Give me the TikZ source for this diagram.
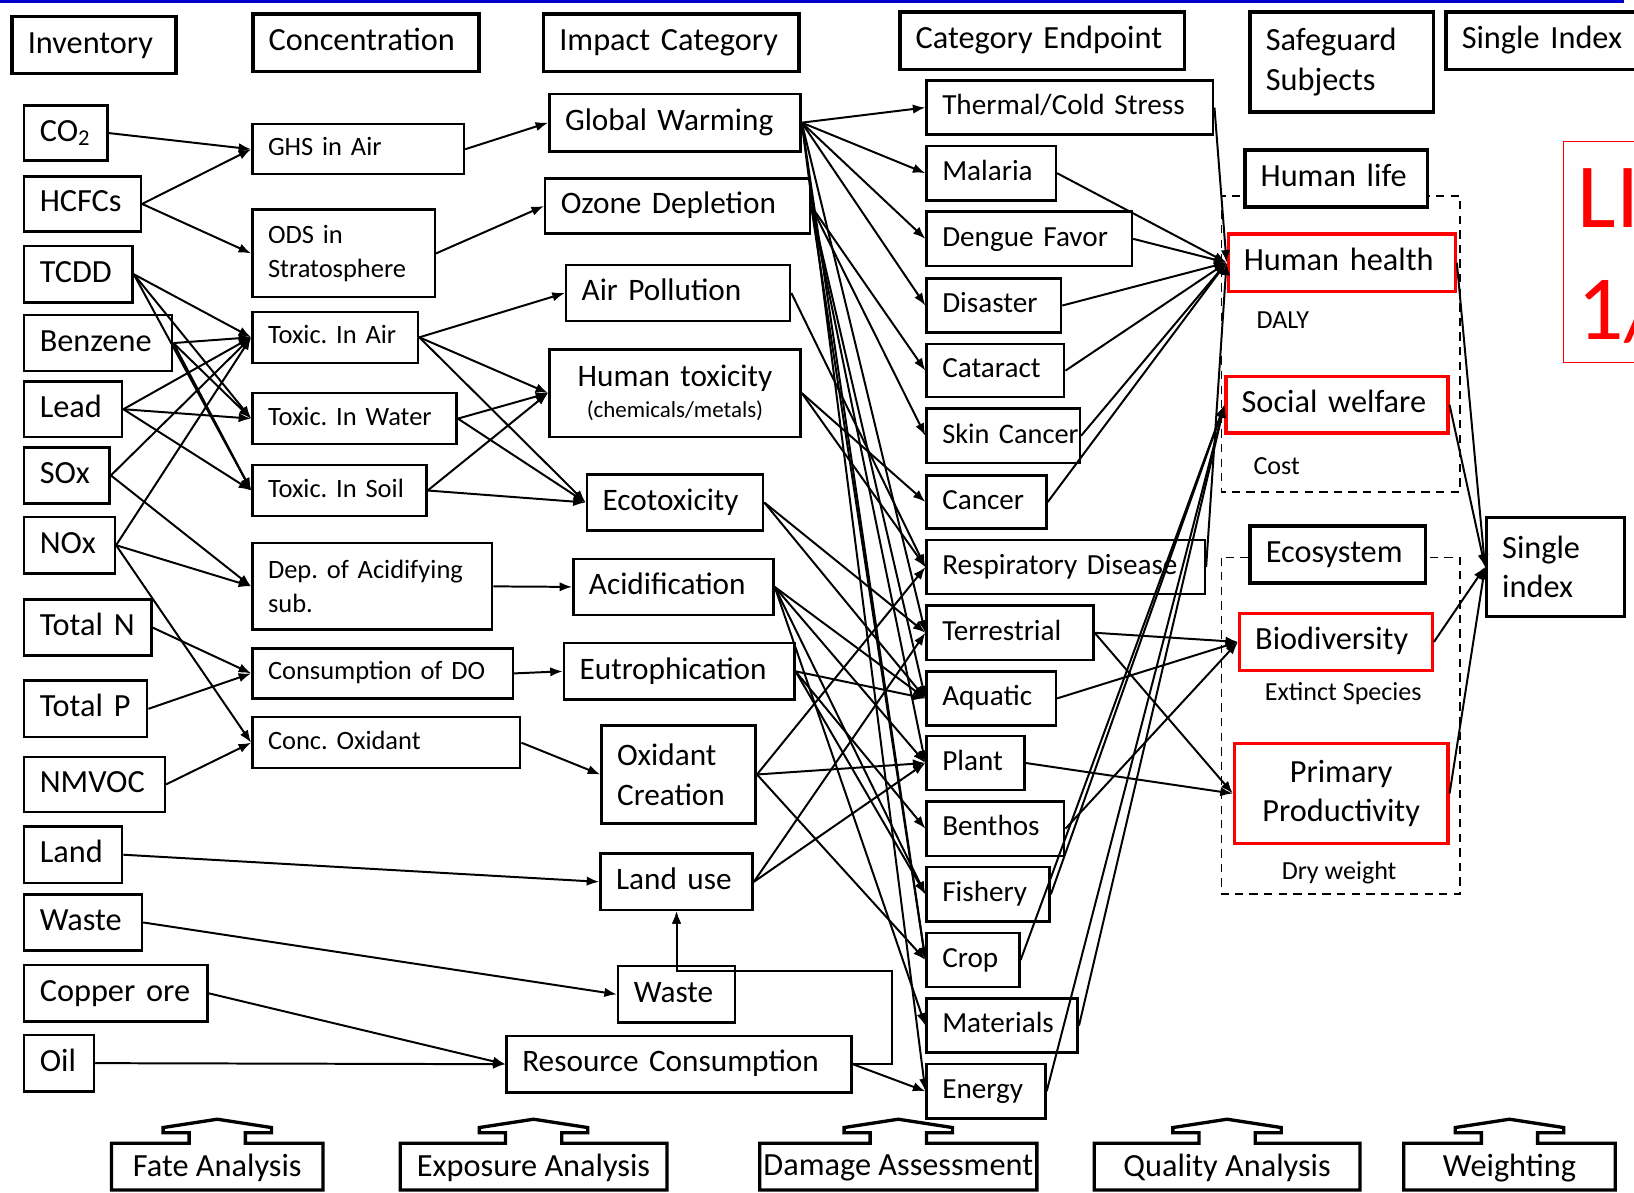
\documentclass[tikz,border=0pt]{standalone}
\usepackage{fontspec}
\setmainfont{Carlito}
\usetikzlibrary{arrows.meta}
\hyphenpenalty=10000
\exhyphenpenalty=10000
\definecolor{topblue}{RGB}{0,0,204}

\tikzset{
  bx/.style={draw, fill=white, line width=1.2pt, anchor=north west, inner xsep=7.5pt, inner ysep=0pt, align=left},
  inv/.style={bx, font=\fontsize{15.5}{19}\selectfont, text height=11.6pt, text depth=3.9pt},
  head/.style={inv, line width=1.7pt},
  headtwo/.style={bx, line width=1.7pt, font=\fontsize{15.5}{19}\selectfont},
  conc/.style={bx, font=\fontsize{12.7}{15.5}\selectfont, text height=9.5pt, text depth=3.2pt},
  conctwo/.style={bx, font=\fontsize{12.7}{16.5}\selectfont},
  imp/.style={bx, font=\fontsize{15}{19}\selectfont, text height=11.2pt, text depth=3.8pt},
  imptwo/.style={bx, font=\fontsize{15}{19}\selectfont},
  endp/.style={bx, font=\fontsize{14}{17}\selectfont, text height=10.5pt, text depth=3.5pt},
  safe/.style={inv, draw=red, line width=1.5pt},
  safetwo/.style={bx, draw=red, line width=1.5pt, align=center, font=\fontsize{15.5}{18.5}\selectfont},
  lab/.style={inner sep=0pt, font=\fontsize{12.5}{15}\selectfont},
  arr/.style={-{Latex[length=6pt,width=4.5pt]}},
  callout/.style={draw, fill=white, line width=1.6pt},
  grp/.style={draw, dash pattern=on 4pt off 3pt, line width=0.8pt}
}

\begin{document}
\begin{tikzpicture}[x=0.5pt, y=-0.5pt, line width=0.95pt]
\useasboundingbox (0,0) rectangle (1568,1144);
\clip (0,0) rectangle (1568,1144);

% blue rule on top
\draw[topblue, line width=1.6pt] (0,1.5) -- (1558,1.5);

% safeguard groups (dashed)
\draw[grp] (1172,188) rectangle (1401,472);
\draw[grp] (1172,535) rectangle (1401,858);

% column headers
\node[head, text width=63.5pt, minimum height=27.5pt] (hinv) at (10,14) {Inventory};
\node[head, text width=93.5pt, minimum height=27.5pt] (hconc) at (241,12) {Concentration};
\node[head, text width=107.5pt, minimum height=27.5pt] (himp) at (520,12) {Impact~Category};
\node[head, text width=121.5pt, minimum height=27.5pt] (hend) at (862,10) {Category~Endpoint};
\node[headtwo, text width=73pt, minimum height=48pt] (hsafe) at (1198,10) {Safeguard\\Subjects};
\node[head, text width=85pt, minimum height=27.5pt] (hsgl) at (1386,10) {Single~Index};

% inventory
\node[inv, text width=25pt, minimum height=26.5pt] (co2) at (22,100) {CO\textsubscript{2}};
\node[inv, text width=41pt, minimum height=26.5pt] (hcfc) at (22,168) {HCFCs};
\node[inv, text width=37pt, minimum height=27pt] (tcdd) at (22,235) {TCDD};
\node[inv, text width=56pt, minimum height=27pt] (benz) at (22,301) {Benzene};
\node[inv, text width=32pt, minimum height=26.5pt] (lead) at (22,365) {Lead};
\node[inv, text width=26pt, minimum height=27pt] (sox) at (22,428) {SOx};
\node[inv, text width=28.5pt, minimum height=27pt] (nox) at (22,495) {NOx};
\node[inv, text width=46pt, minimum height=27pt] (totn) at (22,574) {Total~N};
\node[inv, text width=44pt, minimum height=27pt] (totp) at (22,652) {Total~P};
\node[inv, text width=52.5pt, minimum height=26.5pt] (nmvoc) at (22,725) {NMVOC};
\node[inv, text width=32pt, minimum height=27pt] (land) at (22,792) {Land};
\node[inv, text width=41.5pt, minimum height=27pt] (waste) at (22,857) {Waste};
\node[inv, text width=73pt, minimum height=27pt] (copper) at (22,925) {Copper~ore};
\node[inv, text width=18.5pt, minimum height=27pt] (oil) at (22,992) {Oil};

% concentration
\node[conc, text width=86.5pt, minimum height=24pt] (ghs) at (241,118) {GHS~in~Air};
\node[conctwo, text width=72.5pt, minimum height=42pt] (ods) at (241,200) {ODS in\\Stratosphere};
\node[conc, text width=64.5pt, minimum height=24.5pt] (txa) at (241,298) {Toxic.~In~Air};
\node[conc, text width=83pt, minimum height=24.5pt] (txw) at (241,376) {Toxic.~In~Water};
\node[conc, text width=68.5pt, minimum height=24.5pt] (txs) at (241,445) {Toxic.~In~Soil};
\node[conctwo, text width=100pt, minimum height=41.5pt] (dep) at (241,520) {Dep.~of~Acidifying\\sub.};
\node[conc, text width=110pt, minimum height=24pt] (cdo) at (241,621) {Consumption~of~DO};
\node[conc, text width=113.5pt, minimum height=24.5pt] (cox) at (241,687) {Conc.~Oxidant};

% impact category
\node[imp, text width=105.5pt, minimum height=27.5pt] (gw) at (526,89) {Global~Warming};
\node[imp, text width=112pt, minimum height=26.5pt] (od) at (522,170) {Ozone~Depletion};
\node[imp, text width=92.5pt, minimum height=27pt] (ap) at (542,253) {Air~Pollution};
\node[imptwo, align=center, text width=105.5pt, minimum height=42pt] (ht) at (526,334) {Human~toxicity\\[-4pt]{\fontsize{11}{13}\selectfont (chemicals/metals)}};
\node[imp, text width=69.5pt, minimum height=27pt] (eco) at (562,454) {Ecotoxicity};
\node[imp, text width=81pt, minimum height=27pt] (aci) at (549,535) {Acidification};
\node[imp, text width=95.5pt, minimum height=27pt] (eut) at (540,616) {Eutrophication};
\node[imptwo, text width=59pt, minimum height=47pt] (oxc) at (576,695) {Oxidant\\Creation};
\node[imp, text width=58pt, minimum height=27pt] (lu) at (575,818) {Land~use};
\node[imp, text width=41pt, minimum height=27pt] (wst) at (592,926) {Waste};
\node[imp, text width=150.5pt, minimum height=27pt] (rc) at (485,993) {Resource~Consumption};

% category endpoints
\node[endp, text width=122.5pt, minimum height=26pt] (ths) at (888,76) {Thermal/Cold~Stress};
\node[endp, text width=47pt, minimum height=26pt] (mal) at (888,139) {Malaria};
\node[endp, text width=83.5pt, minimum height=26pt] (den) at (888,202) {Dengue~Favor};
\node[endp, text width=49.5pt, minimum height=26pt] (dis) at (888,266) {Disaster};
\node[endp, text width=51pt, minimum height=25.5pt] (cat) at (888,329) {Cataract};
\node[endp, font=\fontsize{13.6}{17}\selectfont, text width=58.5pt, minimum height=26pt] (skc) at (888,391) {Skin~Cancer};
\node[endp, text width=42.5pt, minimum height=25.5pt] (cnc) at (888,455) {Cancer};
\node[endp, text width=118.5pt, minimum height=26pt] (res) at (888,517) {Respiratory~Disease};
\node[endp, text width=65pt, minimum height=26pt] (ter) at (888,580) {Terrestrial};
\node[endp, text width=47pt, minimum height=26pt] (aqu) at (888,643) {Aquatic};
\node[endp, text width=32pt, minimum height=26pt] (pla) at (888,705) {Plant};
\node[endp, text width=51pt, minimum height=26pt] (ben) at (888,768) {Benthos};
\node[endp, text width=44pt, minimum height=26pt] (fis) at (888,831) {Fishery};
\node[endp, text width=29.5pt, minimum height=26pt] (crp) at (888,894) {Crop};
\node[endp, text width=57.5pt, minimum height=26pt] (mat) at (888,957) {Materials};
\node[endp, text width=42pt, minimum height=26pt] (ene) at (888,1020) {Energy};

% safeguard subjects
\node[head, text width=72.5pt, minimum height=27.5pt] (hlife) at (1193,142) {Human~life};
\node[safe, text width=94pt, minimum height=27.5pt] (hh) at (1177,223) {Human~health};
\node[lab, anchor=west] (daly) at (1205,307) {DALY};
\node[safe, text width=91.5pt, minimum height=27pt] (sw) at (1175,360) {Social~welfare};
\node[lab, anchor=west] (cost) at (1202,447) {Cost};
\node[head, text width=69pt, minimum height=27.5pt] (ecos) at (1198,503) {Ecosystem};
\node[safe, text width=77.5pt, minimum height=27.5pt] (bio) at (1188,587) {Biodiversity};
\node[lab] (ext) at (1289,666) {Extinct Species};
\node[safetwo, text width=87.5pt, minimum height=48pt] (pp) at (1183,712) {Primary\\Productivity};
\node[lab] (dry) at (1285,837) {Dry weight};

% single index
\node[headtwo, line width=1.5pt, text width=51pt, minimum height=47.5pt] (sgl) at (1425,495) {Single\\index};

% red title box, cut by the page edge
\draw[red, line width=0.6pt] (1500,136) rectangle (1600,348);
\node[anchor=base west, inner sep=0pt, text=red, font=\fontsize{44}{44}\selectfont] (lime) at (1513,218) {LI};
\node[anchor=base west, inner sep=0pt, text=red, font=\fontsize{44}{44}\selectfont] (part) at (1513,326) {1/};

% inventory -> concentration
\draw[arr] (co2.east) -- (ghs.west);
\draw[arr] (hcfc.east) -- (ghs.west);
\draw[arr] (hcfc.east) -- (ods.west);
\draw[arr] (tcdd.east) -- (txa.west);
\draw[arr] (tcdd.east) -- (txw.west);
\draw[arr] (tcdd.east) -- (txs.west);
\draw[arr] (benz.east) -- (txa.west);
\draw[arr] (benz.east) -- (txw.west);
\draw[arr] (benz.east) -- (txs.west);
\draw[arr] (lead.east) -- (txa.west);
\draw[arr] (lead.east) -- (txw.west);
\draw[arr] (lead.east) -- (txs.west);
\draw[arr] (sox.east) -- (txa.west);
\draw[arr] (sox.east) -- (dep.west);
\draw[arr] (nox.east) -- (txa.west);
\draw[arr] (nox.east) -- (dep.west);
\draw[arr] (nox.east) -- (cox.west);
\draw[arr] (totn.east) -- (cdo.west);
\draw[arr] (totp.east) -- (cdo.west);
\draw[arr] (nmvoc.east) -- (cox.west);
\draw[arr] (land.east) -- (lu.west);
\draw[arr] (waste.east) -- (wst.west);
\draw[arr] (copper.east) -- (rc.west);
\draw[arr] (oil.east) -- (rc.west);

% concentration -> impact category
\draw[arr] (ghs.east) -- (gw.west);
\draw[arr] (ods.east) -- (od.west);
\draw[arr] (txa.east) -- (ap.west);
\draw[arr] (txa.east) -- (ht.west);
\draw[arr] (txa.east) -- (eco.west);
\draw[arr] (txw.east) -- (ht.west);
\draw[arr] (txw.east) -- (eco.west);
\draw[arr] (txs.east) -- (ht.west);
\draw[arr] (txs.east) -- (eco.west);
\draw[arr] (dep.east) -- (aci.west);
\draw[arr] (cdo.east) -- (eut.west);
\draw[arr] (cox.east) -- (oxc.west);
\coordinate (rcbend) at (856,932);
\draw[arr] (rc.east) -| (rcbend) -| (lu.south);
\draw[arr] (wst.north) -- (lu.south);

% impact category -> category endpoint
\draw[arr] (gw.east) -- (ths.west);
\draw[arr] (gw.east) -- (mal.west);
\draw[arr] (gw.east) -- (den.west);
\draw[arr] (gw.east) -- (dis.west);
\draw[arr] (gw.east) -- (ter.west);
\draw[arr] (gw.east) -- (crp.west);
\draw[arr] (gw.east) -- (ene.west);
\draw[arr] (od.east) -- (cat.west);
\draw[arr] (od.east) -- (skc.west);
\draw[arr] (od.east) -- (aqu.west);
\draw[arr] (od.east) -- (pla.west);
\draw[arr] (od.east) -- (crp.west);
\draw[arr] (ap.east) -- (res.west);
\draw[arr] (ht.east) -- (cnc.west);
\draw[arr] (ht.east) -- (res.west);
\draw[arr] (eco.east) -- (ter.west);
\draw[arr] (eco.east) -- (aqu.west);
\draw[arr] (aci.east) -- (aqu.west);
\draw[arr] (aci.east) -- (pla.west);
\draw[arr] (aci.east) -- (fis.west);
\draw[arr] (aci.east) -- (mat.west);
\draw[arr] (eut.east) -- (aqu.west);
\draw[arr] (eut.east) -- (ben.west);
\draw[arr] (eut.east) -- (fis.west);
\draw[arr] (oxc.east) -- (res.west);
\draw[arr] (oxc.east) -- (pla.west);
\draw[arr] (oxc.east) -- (crp.west);
\draw[arr] (lu.east) -- (ter.west);
\draw[arr] (lu.east) -- (pla.west);
\draw[arr] (rc.east) -- (ene.west);

% category endpoint -> safeguard subjects
\draw[arr] (ths.east) -- (hh.west);
\draw[arr] (mal.east) -- (hh.west);
\draw[arr] (den.east) -- (hh.west);
\draw[arr] (dis.east) -- (hh.west);
\draw[arr] (cat.east) -- (hh.west);
\draw[arr] (skc.east) -- (hh.west);
\draw[arr] (cnc.east) -- (hh.west);
\draw[arr] (res.east) -- (hh.west);
\draw[arr] (fis.east) -- (sw.west);
\draw[arr] (crp.east) -- (sw.west);
\draw[arr] (mat.east) -- (sw.west);
\draw[arr] (ene.east) -- (sw.west);
\draw[arr] (ter.east) -- (bio.west);
\draw[arr] (aqu.east) -- (bio.west);
\draw[arr] (ben.east) -- (bio.west);
\draw[arr] (ter.east) -- (pp.west);
\draw[arr] (pla.east) -- (pp.west);

% safeguard subjects -> single index
\draw[arr] (hh.east) -- (sgl.west);
\draw[arr] (sw.east) -- (sgl.west);
\draw[arr] (bio.east) -- (sgl.west);
\draw[arr] (pp.east) -- (sgl.west);

% analysis steps at the bottom
\foreach \xl/\xr/\nm/\txt in {107/310/fate/Fate Analysis, 384/640/expo/Exposure Analysis, 729/995/dmg/Damage Assessment, 1050/1305/qual/Quality Analysis, 1347/1550/wgt/Weighting} {
  \pgfmathsetmacro\cx{(\xl+\xr)/2}
  \draw[callout] (\xl,1142) -- (\xl,1097) -- (\cx-27,1097) -- (\cx-27,1087) -- (\cx-52,1087) -- (\cx-52,1082) -- (\cx,1074) -- (\cx+52,1082) -- (\cx+52,1087) -- (\cx+27,1087) -- (\cx+27,1097) -- (\xr,1097) -- (\xr,1142) -- cycle;
  \node[inner sep=0pt, font=\fontsize{15.5}{19}\selectfont] (\nm) at (\cx,1121) {\txt};
}
\end{tikzpicture}
\end{document}
